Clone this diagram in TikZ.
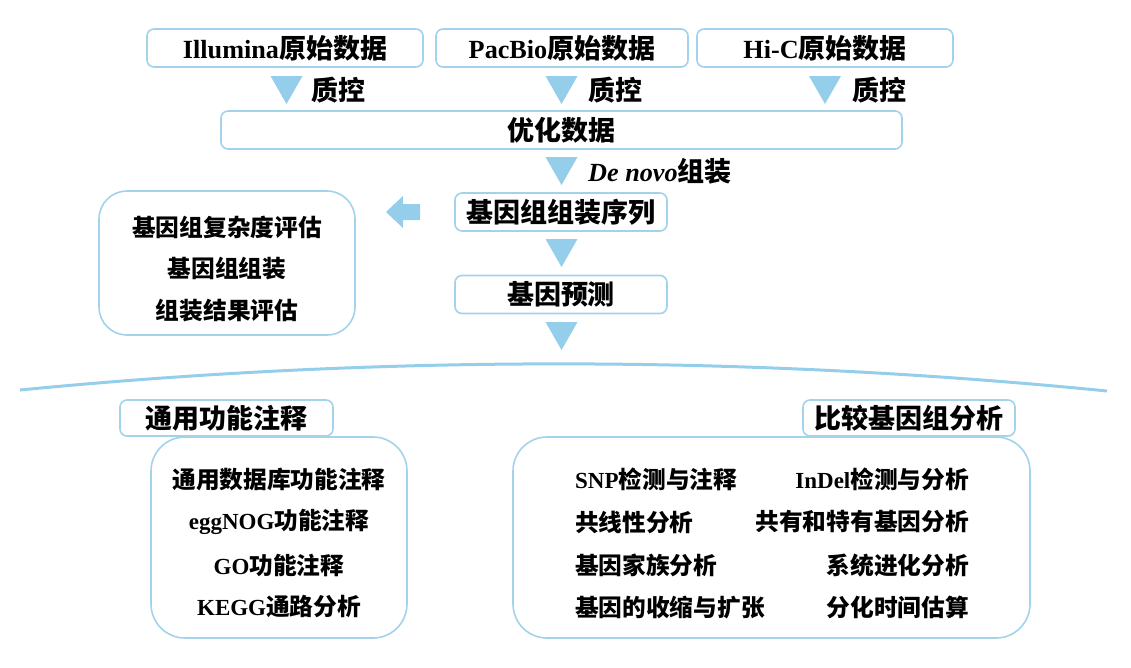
\documentclass[tikz,border=0pt]{standalone}
\usepackage{fontspec}
\setmainfont{Liberation Serif}
\newfontfamily\cjk[Scale=1.03]{Noto Sans CJK SC Bold}
\newcommand{\cj}[1]{{\cjk #1}}
\definecolor{lb}{RGB}{148,206,234}
\definecolor{bord}{RGB}{163,211,235}
\begin{document}
\begin{tikzpicture}[x=1pt,y=-1pt,
  box/.style={draw=bord, line width=1.6pt, rounded corners=7pt, fill=white, inner sep=0pt,
    font=\bfseries\fontsize{26.2}{30}\selectfont},
  bigbox/.style={draw=bord, line width=1.6pt, fill=white, inner sep=0pt},
  head/.style={inner sep=0pt, font=\bfseries\fontsize{26.2}{30}\selectfont},
  item/.style={inner sep=0pt, font=\bfseries\fontsize{23}{28}\selectfont},
  tri/.style={fill=lb, draw=none}]
\useasboundingbox (0,0) rectangle (1131,667);

% top data boxes
\node[box, minimum width=276, minimum height=38] (ill) at (285,48) {Illumina\cj{原始数据}};
\node[box, minimum width=252, minimum height=38] (pac) at (562,48) {PacBio\cj{原始数据}};
\node[box, minimum width=256, minimum height=38] (hic) at (825,48) {Hi-C\cj{原始数据}};

% QC triangles
\fill[tri] (270.5,76) -- (302.5,76) -- (286.5,104) -- cycle;
\fill[tri] (545.5,76) -- (577.5,76) -- (561.5,104) -- cycle;
\fill[tri] (809,76) -- (841,76) -- (825,104) -- cycle;
\node[head, anchor=west] (qc1) at (311,90) {\cj{质控}};
\node[head, anchor=west] (qc2) at (588,90) {\cj{质控}};
\node[head, anchor=west] (qc3) at (852,90) {\cj{质控}};

\node[box, minimum width=681, minimum height=38] (opt) at (561.5,130) {\cj{优化数据}};

\fill[tri] (545.5,157) -- (577.5,157) -- (561.5,185) -- cycle;
\node[head, anchor=west] (denovo) at (588,171) {\textit{De novo}\cj{组装}};

\node[box, minimum width=212, minimum height=38] (asm) at (561,212) {\cj{基因组组装序列}};
\fill[tri] (545.5,239) -- (577.5,239) -- (561.5,267) -- cycle;
\node[box, minimum width=212, minimum height=38] (pred) at (561,294.5) {\cj{基因预测}};
\fill[tri] (545.5,322) -- (577.5,322) -- (561.5,350) -- cycle;

% left arrow
\fill[tri] (386,212) -- (403,196) -- (403,204) -- (420,204) -- (420,220) -- (403,220) -- (403,228) -- cycle;

% left assembly box
\node[bigbox, rounded corners=28pt, minimum width=256, minimum height=144] (lbox) at (227,263) {};
\node[item] (l1) at (227,227) {\cj{基因组复杂度评估}};
\node[item] (l2) at (227,269) {\cj{基因组组装}};
\node[item] (l3) at (227,311) {\cj{组装结果评估}};

% arc
\draw[lb, line width=3pt] (20,390) .. controls (380,355) and (745,355) .. (1107,391);

% annotation
\node[bigbox, rounded corners=34pt, minimum width=256, minimum height=201] (abody) at (279,537.5) {};
\node[box, minimum width=213, minimum height=36] (ahead) at (226.5,418) {\cj{通用功能注释}};
\node[item] (a1) at (279,479) {\cj{通用数据库功能注释}};
\node[item] (a2) at (279,522) {eggNOG\cj{功能注释}};
\node[item] (a3) at (279,565) {GO\cj{功能注释}};
\node[item] (a4) at (279,607) {KEGG\cj{通路分析}};

% comparative genomics
\node[bigbox, rounded corners=34pt, minimum width=517, minimum height=201] (cbody) at (771.5,537.5) {};
\node[box, minimum width=212, minimum height=36] (chead) at (909,418) {\cj{比较基因组分析}};
\node[item, anchor=west] (c1) at (575,479) {SNP\cj{检测与注释}};
\node[item, anchor=west] (c2) at (575,522) {\cj{共线性分析}};
\node[item, anchor=west] (c3) at (575,565) {\cj{基因家族分析}};
\node[item, anchor=west] (c4) at (575,607) {\cj{基因的收缩与扩张}};
\node[item, anchor=east] (d1) at (969,479) {InDel\cj{检测与分析}};
\node[item, anchor=east] (d2) at (969,522) {\cj{共有和特有基因分析}};
\node[item, anchor=east] (d3) at (969,565) {\cj{系统进化分析}};
\node[item, anchor=east] (d4) at (969,607) {\cj{分化时间估算}};
\end{tikzpicture}
\end{document}
